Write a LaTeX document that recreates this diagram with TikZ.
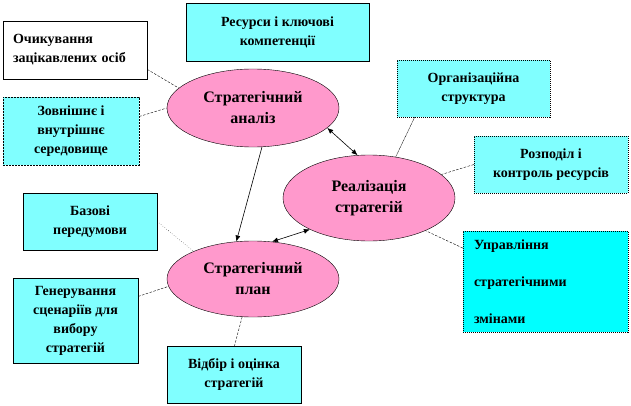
\documentclass[tikz,border=0pt]{standalone}
\usepackage{fontspec}
\setmainfont{Liberation Serif}
\usepackage{tikz}
\usetikzlibrary{arrows.meta,shapes.geometric}
\definecolor{boxcyan}{HTML}{80FFFF}
\definecolor{fullcyan}{HTML}{00FFFF}
\definecolor{ellpink}{HTML}{FF99CC}
\tikzset{
  box/.style={draw,thin,fill=boxcyan,align=center,inner sep=3pt,
    font=\fontsize{14}{19}\selectfont\bfseries},
  wbox/.style={draw,thin,fill=white,align=left,inner sep=3pt,
    font=\fontsize{14}{19}\selectfont\bfseries},
  oval/.style={ellipse,draw,thin,fill=ellpink,align=center,inner sep=0pt,
    minimum width=172pt,font=\fontsize{16}{21}\selectfont\bfseries},
  link/.style={thin,dash pattern=on 2.5pt off 1.5pt},
  arr/.style={-{Latex[length=6pt,width=5pt]},semithick},
  darr/.style={{Latex[length=6pt,width=5pt]}-{Latex[length=6pt,width=5pt]},semithick},
}
\begin{document}
\begin{tikzpicture}[x=1pt,y=-1pt]
\useasboundingbox (0,0) rectangle (631,406);

% three ellipses
\node[oval, minimum height=78pt] (an) at (253,108) {Стратегічний\\аналіз};
\node[oval, minimum height=86pt] (real) at (369,198) {Реалізація\\стратегій};
\node[oval, minimum height=76pt] (plan) at (253,279) {Стратегічний\\план};

% boxes round them
\node[wbox, minimum width=144pt, minimum height=58pt, text width=124pt] (ochik) at (75,50)
  {Очикування\\зацікавлених осіб};
\node[box, minimum width=183pt, minimum height=58pt] (res) at (277.5,32)
  {Ресурси і ключові\\компетенції};
\node[box, dash pattern=on 2pt off 1pt, minimum width=136pt, minimum height=68pt] (zovn) at (71,131)
  {Зовнішнє і\\внутрішнє\\середовище};
\node[box, dash pattern=on 1pt off 1pt, minimum width=153pt, minimum height=57pt] (org) at (473.5,88.5)
  {Організаційна\\структура};
\node[box, dash pattern=on 1pt off 1pt, minimum width=154pt, minimum height=57pt] (rozp) at (551,164.5)
  {Розподіл і\\контроль ресурсів};
\node[box, minimum width=134pt, minimum height=57pt] (baz) at (90,221.5)
  {Базові\\передумови};
\node[box, minimum width=125pt, minimum height=85pt] (gen) at (75.5,320.5)
  {Генерування\\сценаріїв для\\вибору\\стратегій};
\node[box, minimum width=134pt, minimum height=57pt] (vidb) at (234,374.5)
  {Відбір і оцінка\\стратегій};
\node[wbox, fill=fullcyan, dash pattern=on 1pt off 1pt, minimum width=165pt, minimum height=101pt,
  text width=143pt, font=\fontsize{14}{37}\selectfont\bfseries] (upr) at (545.5,281.5)
  {Управління\\стратегічними\\змінами};

% links
\draw[link] (ochik.-15) -- (an.165);
\draw[link] (zovn.12) -- (an.180);
\draw[arr] (an.-77) -- (plan.114);
\draw[darr] (an.-15) -- (real.105);
\draw[darr] (real.-152) -- (plan.63);
\draw[thin,dash pattern=on 1pt off 0.5pt] (org.-154) -- (real.57);
\draw[link] (rozp.west) -- (real.18);
\draw[link] (upr.158) -- (real.-30);
\draw[thin,dotted] (baz.east) -- (plan.155);
\draw[link] (gen.21) -- (plan.185);
\draw[link] (plan.-106) -- (vidb.89);
\end{tikzpicture}
\end{document}
